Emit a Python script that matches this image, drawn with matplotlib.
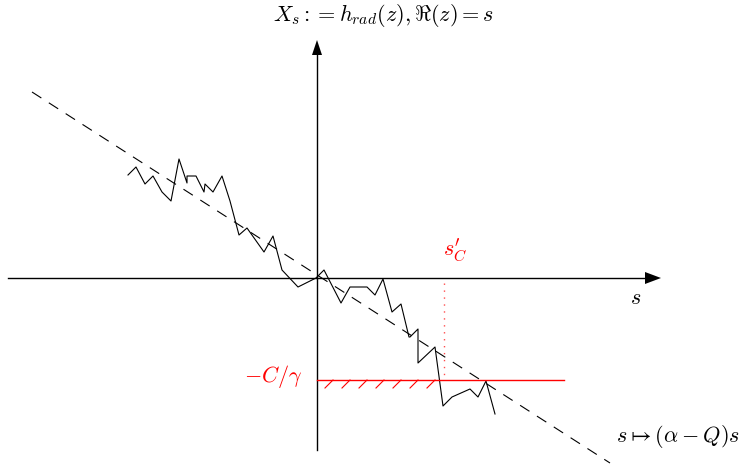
import matplotlib.pyplot as plt

plt.rcParams['mathtext.fontset'] = 'cm'

# path of the process, in pixel-like units (origin at the axes crossing, y up)
path_x = [-189, -181, -172, -164, -155, -146, -138, -130, -130, -121, -113, -112, -104, -95, -87,
          -78, -70, -53, -44, -35, -19, -1, 7, 24, 33, 50, 58, 66, 75, 84, 92, 93, 101, 101, 118,
          126, 135, 153, 161, 169, 178]
path_y = [103, 111, 94, 102, 86, 77, 119, 95, 102, 102, 86, 94, 86, 102, 77,
          43, 50, 26, 42, 8, -9, 0, 8, -25, -9, -9, -17, -1, -34, -26, -59, -59, -51, -85, -69,
          -128, -119, -111, -119, -103, -136]

# reference line s -> (alpha - Q) s
ref_x = [-285, 293]
ref_y = [186, -185]

# barrier -C/gamma and crossing point s'_C
barrier_y = -102
barrier_x = [0, 247]
hatch_x = [8, 25, 42, 59, 76, 93, 110]
sc_x = 127

fig = plt.figure(figsize=(7.42, 4.69), dpi=100)
ax = fig.add_axes([0, 0, 1, 1])
ax.set_xlim(-317, 425)
ax.set_ylim(-191, 278)
ax.axis('off')

# axes with arrows
ax.plot([-309, 330], [0, 0], color='black', lw=1)
ax.plot([0, 0], [-172, 225], color='black', lw=1)
ax.fill([328, 344, 328], [-6, 0, 6], color='black', lw=0)
ax.fill([-5, 0, 5], [223, 238, 223], color='black', lw=0)

ax.plot(ref_x, ref_y, color='black', lw=0.8, dashes=(10, 8))
ax.plot(path_x, path_y, color='black', lw=0.8)

ax.plot(barrier_x, [barrier_y, barrier_y], color='red', lw=1)
for hx in hatch_x:
    ax.plot([hx, hx + 8], [barrier_y - 8, barrier_y], color='red', lw=0.8)
ax.plot([sc_x, sc_x], [-5, barrier_y], color='red', lw=1, ls=(0, (1, 4)), alpha=0.7)

fs = 16
ax.text(67, 276, r'$X_s := h_{rad}(z), \Re(z) = s$', fontsize=fs, ha='center', va='top')
ax.text(319, -20, r'$s$', fontsize=fs, ha='center', va='center')
ax.text(138, 28, r"$s^{\prime}_{C}$", fontsize=fs, ha='center', va='center', color='red')
ax.text(-15, -98, r'$-C/\gamma$', fontsize=fs, ha='right', va='center', color='red')
ax.text(361, -158, r'$s \mapsto (\alpha - Q)s$', fontsize=fs, ha='center', va='center')

fig.savefig('out.png', dpi=100)
